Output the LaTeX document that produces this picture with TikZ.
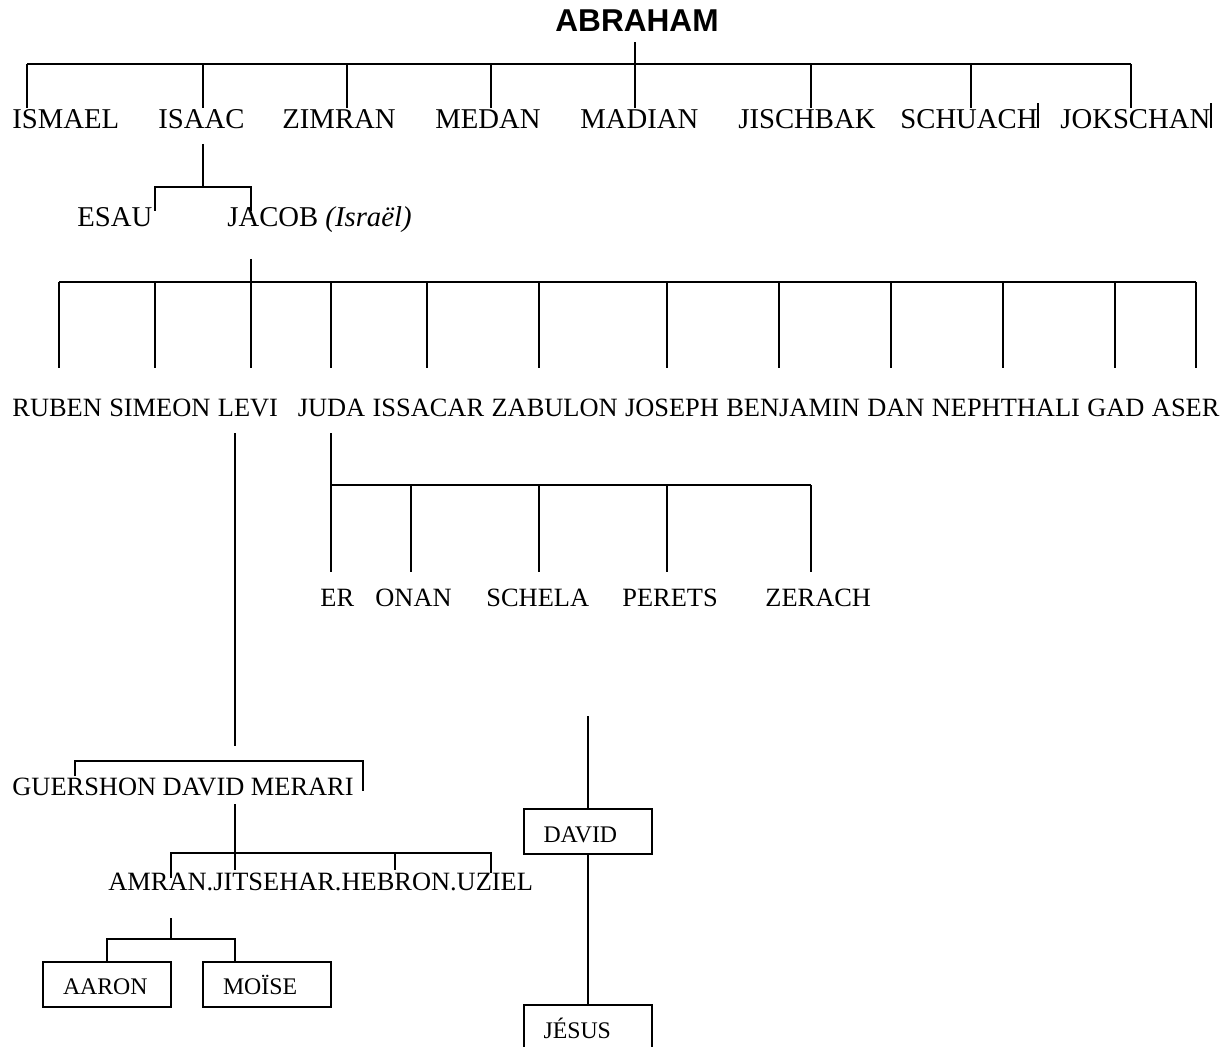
\documentclass[tikz,border=0pt]{standalone}
\usepackage{fontspec}
\setmainfont{Liberation Serif}
\newfontfamily\headfont{Liberation Sans}
\usetikzlibrary{positioning}
\tikzset{
  kid/.style = {inner sep=0pt, anchor=base west, font=\fontsize{14.35}{16}\selectfont},
  son/.style = {inner sep=0pt, anchor=base west, font=\fontsize{13.2}{15}\selectfont},
  personbox/.style = {draw, line width=1pt, inner xsep=10pt, inner ysep=0pt, text width=44pt,
    text height=10.8pt, text depth=0pt, minimum height=22.5pt, align=left, font=\fontsize{11.9}{14}\selectfont},
  link/.style = {line width=1pt}
}

\begin{document}
\begin{tikzpicture}[x=0.5pt, y=-0.5pt]
  \useasboundingbox (0,0) rectangle (1229,1047);
  \clip (0,0) rectangle (1229,1047);

  \node[font=\headfont\bfseries\fontsize{15.8}{18}\selectfont, inner sep=5pt, anchor=base] (abraham) at (637,32) {ABRAHAM};
  \node[kid] (ismael) at (12,129) {ISMAEL};
  \node[kid] (isaac) at (158,129) {ISAAC};
  \node[kid] (zimran) at (282,129) {ZIMRAN};
  \node[kid] (medan) at (435,129) {MEDAN};
  \node[kid] (madian) at (580,129) {MADIAN};
  \node[kid] (jischbak) at (738,129) {JISCHBAK};
  \node[kid] (schuach) at (900,129) {SCHUACH};
  \node[kid] (jokschan) at (1060,129) {JOKSCHAN};
  \coordinate (bar1) at (0,64);
  \foreach \n/\x in {ismael/27, isaac/203, zimran/347, medan/491, madian/635, jischbak/811, schuach/971, jokschan/1131}
    \coordinate (\n-t) at (\x,108);
  \draw[link] (ismael-t |- bar1) -- (jokschan-t |- bar1);
  \foreach \n in {ismael, isaac, zimran, medan, jischbak, schuach, jokschan}
    \draw[link] (\n-t |- bar1) -- (\n-t);
  \draw[link] (madian-t |- abraham.south) -- (madian-t);
  \draw[link] (schuach.base east) ++(0,-1) -- ++(0,-25);
  \draw[link] (jokschan.base east) ++(0,-1) -- ++(0,-25);

  \node[kid] (esau) at (77,227) {ESAU};
  \node[kid] (jacob) at (227,227) {JACOB \textit{(Israël)}};
  \coordinate (isaac-b) at (203,144);
  \coordinate (bar2) at (0,187);
  \coordinate (esau-t) at (155,211);
  \coordinate (jacob-t) at (251,211);
  \draw[link] (isaac-b) -- (isaac-b |- bar2);
  \draw[link] (esau-t) |- (bar2 -| jacob-t) -- (jacob-t);

  \node[son] (ruben) at (12,416) {RUBEN};
  \node[son, base right=3.3pt of ruben] (simeon) {SIMEON};
  \node[son, base right=3.3pt of simeon] (levi) {LEVI};
  \node[son, base right=9.5pt of levi] (juda) {JUDA};
  \node[son, base right=3.3pt of juda] (issacar) {ISSACAR};
  \node[son, base right=3.3pt of issacar] (zabulon) {ZABULON};
  \node[son, base right=3.3pt of zabulon] (joseph) {JOSEPH};
  \node[son, base right=3.3pt of joseph] (benjamin) {BENJAMIN};
  \node[son, base right=3.3pt of benjamin] (dan) {DAN};
  \node[son, base right=3.3pt of dan] (nephthali) {NEPHTHALI};
  \node[son, base right=3.3pt of nephthali] (gad) {GAD};
  \node[son, base right=3.3pt of gad] (aser) {ASER};
  \coordinate (jacob-b) at (251,259);
  \coordinate (bar3) at (0,282);
  \foreach \n/\x in {ruben/59, simeon/155, levi/251, juda/331, issacar/427, zabulon/539, joseph/667,
      benjamin/779, dan/891, nephthali/1003, gad/1115, aser/1196}
    \coordinate (\n-t) at (\x,368);
  \draw[link] (ruben-t |- bar3) -- (aser-t |- bar3);
  \foreach \n in {ruben, simeon, juda, issacar, zabulon, joseph, benjamin, dan, nephthali, gad, aser}
    \draw[link] (\n-t |- bar3) -- (\n-t);
  \draw[link] (jacob-b) -- (levi-t);

  \node[son] (er) at (320,606) {ER};
  \node[son] (onan) at (375,606) {ONAN};
  \node[son] (schela) at (486,606) {SCHELA};
  \node[son] (perets) at (622,606) {PERETS};
  \node[son] (zerach) at (765,606) {ZERACH};
  \coordinate (juda-b) at (331,433);
  \coordinate (bar4) at (0,485);
  \foreach \n/\x in {er/331, onan/411, schela/539, perets/667, zerach/811}
    \coordinate (\n-t) at (\x,572);
  \draw[link] (juda-b) -- (er-t);
  \draw[link] (er-t |- bar4) -- (zerach-t |- bar4);
  \foreach \n in {onan, schela, perets, zerach}
    \draw[link] (\n-t |- bar4) -- (\n-t);

  \node[son] (levisons) at (12,795) {GUERSHON DAVID MERARI};
  \coordinate (levi-b) at (235,433);
  \coordinate (levi-e) at (235,746);
  \coordinate (guershon-t) at (75,776);
  \coordinate (merari-t) at (363,791);
  \coordinate (bar5) at (0,761);
  \draw[link] (levi-b) -- (levi-e);
  \draw[link] (guershon-t) |- (bar5 -| merari-t) -- (merari-t);

  \node[son] (kehathsons) at (108,890) {AMRAN.JITSEHAR.HEBRON.UZIEL};
  \coordinate (levisons-b) at (235,804);
  \coordinate (bar6) at (0,853);
  \coordinate (amran-t) at (171,878);
  \coordinate (jitsehar-t) at (235,870);
  \coordinate (hebron-t) at (395,870);
  \coordinate (uziel-t) at (491,873);
  \draw[link] (levisons-b) -- (jitsehar-t);
  \draw[link] (amran-t) |- (bar6 -| uziel-t) -- (uziel-t);
  \draw[link] (hebron-t |- bar6) -- (hebron-t);

  \node[personbox] (aaron) at (107,984) {AARON};
  \node[personbox] (moise) at (267,984) {MOÏSE};
  \coordinate (amran-b) at (171,918);
  \coordinate (bar7) at (0,939);
  \coordinate (moise-t) at ([xshift=-16pt]moise.north);
  \draw[link] (amran-b) -- (amran-b |- bar7);
  \draw[link] (aaron.north) |- (bar7 -| moise-t) -- (moise-t);

  \node[personbox] (david) at (587.5,831.5) {DAVID};
  \node[personbox] (jesus) at (587.5,1027.5) {JÉSUS};
  \coordinate (david-a) at (587.5,716);
  \draw[link] (david-a) -- (david.north);
  \draw[link] (david.south) -- (jesus.north);
\end{tikzpicture}
\end{document}
